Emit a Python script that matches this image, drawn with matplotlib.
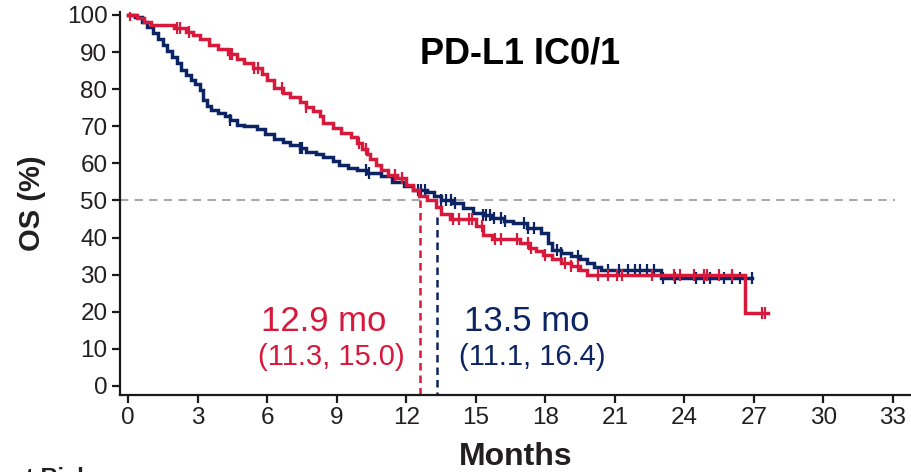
import numpy as np
import matplotlib
matplotlib.use("Agg")
import matplotlib.pyplot as plt

plt.rcParams['font.family'] = ['Liberation Sans', 'DejaVu Sans']

# ---- data ----
red_t = [0, 0.4, 0.7, 1.0, 2.0, 2.5, 2.8, 3.1, 3.5, 3.9, 4.3, 4.7, 5.0, 5.4, 5.8, 6.0, 6.3, 6.7,
         7.0, 7.4, 7.7, 8.0, 8.3, 8.4, 8.85, 9.2, 9.6, 9.9, 10.1, 10.3, 10.45, 10.7, 10.9, 11.2,
         11.6, 12.0, 12.3, 12.55, 12.9, 13.3, 13.5, 13.9, 15.0, 15.3, 15.7, 16.9, 17.3, 17.6,
         17.9, 18.3, 18.7, 19.1, 19.5, 19.8, 26.6, 27.6]
red_s = [100, 99.2, 98.2, 97.3, 96.5, 95.5, 94.6, 93.6, 92.0, 90.8, 89.5, 88.2, 87.0, 85.7, 84.0,
         82.5, 80.3, 79.0, 77.9, 76.5, 75.2, 74.0, 72.8, 70.8, 69.5, 68.3, 67.1, 65.5, 64.0, 62.5,
         61.2, 59.6, 58.2, 57.0, 56.0, 54.2, 52.8, 51.3, 50.0, 48.2, 46.3, 45.0, 43.0, 40.8, 39.6,
         38.5, 37.2, 36.3, 35.3, 34.2, 33.2, 32.4, 31.2, 29.9, 19.7, 19.7]
red_censor = [0.1, 2.1, 2.25, 2.65, 4.4, 4.5, 5.45, 5.6, 6.65, 7.7, 9.95, 10.25, 11.5, 11.8,
              14.0, 14.3, 14.7, 14.85, 15.25, 15.85, 16.1, 16.8, 17.25, 17.4, 18.0, 18.85,
              19.1, 19.4, 20.26, 20.69, 21.1, 21.3, 22.6, 23.56, 23.8, 24.4, 24.85, 24.97,
              25.5, 26.05, 27.35, 27.5]

blue_t = [0, 0.3, 0.6, 0.8, 1.1, 1.3, 1.5, 1.7, 1.9, 2.1, 2.3, 2.5, 2.7, 2.9, 3.1, 3.25, 3.4,
          3.6, 3.9, 4.2, 4.4, 4.7, 5.0, 5.55, 5.9, 6.3, 6.7, 7.0, 7.4, 7.7, 8.1, 8.4, 8.85, 9.1,
          9.5, 9.9, 10.3, 10.9, 11.4, 11.9, 12.3, 12.9, 13.2, 13.5, 14.0, 14.45, 14.9, 15.3,
          15.7, 16.2, 16.6, 17.2, 17.8, 18.1, 18.3, 18.7, 19.1, 19.5, 19.8, 20.1, 20.4, 23.0, 26.9]
blue_s = [100, 99.5, 98.2, 96.8, 95.1, 93.5, 92.0, 90.3, 88.7, 87.0, 85.2, 83.8, 82.5, 81.5,
          79.8, 77.1, 75.5, 74.4, 73.5, 72.8, 71.8, 70.4, 70.0, 69.2, 68.0, 66.5, 65.8, 65.0,
          64.2, 63.1, 62.5, 61.7, 60.7, 59.5, 58.8, 58.2, 57.4, 56.6, 55.0, 54.0, 52.8, 52.2,
          51.2, 50.1, 49.4, 48.0, 46.6, 46.0, 45.4, 44.5, 43.9, 42.6, 41.2, 38.5, 36.7, 35.8,
          35.0, 34.2, 33.2, 32.1, 31.3, 29.2, 29.2]
blue_censor = [4.4, 7.4, 7.5, 10.25, 10.4, 12.5, 12.65, 12.8, 13.5, 13.7, 13.95, 14.1, 15.3,
               15.45, 15.6, 15.8, 16.1, 16.25, 17.1, 17.25, 17.5, 18.5, 18.7, 19.4, 20.7,
               21.2, 21.55, 21.85, 22.1, 22.4, 22.7, 23.1, 23.6, 24.5, 24.85, 25.1, 25.7,
               26.05, 26.4, 26.9]

red_median_line = [12.6, 50.0]     # x position, top of dashed drop line
blue_median_line = [13.35, 45.5]
red_label = ["12.9 mo", "(11.3, 15.0)"]
blue_label = ["13.5 mo", "(11.1, 16.4)"]
x_ticks = list(range(0, 34, 3))
y_ticks = list(range(0, 101, 10))

RED = '#D7193C'
NAVY = '#0C2463'
GREY = '#A9A9A9'


def surv_at(t_arr, s_arr, times):
    t_arr = np.asarray(t_arr)
    s_arr = np.asarray(s_arr)
    idx = np.searchsorted(t_arr, np.asarray(times), side='right') - 1
    return s_arr[idx]


W, H = 912, 472
fig = plt.figure(figsize=(W / 100, H / 100), dpi=100)
ax = fig.add_axes([120 / W, 77 / H, 1 - 120 / W, (395 - 12) / H])

ax.set_xlim(-0.345, 33.82)
ax.set_ylim(-2.43, 100.8)

# 50% reference line
ax.axhline(50, xmin=0, xmax=(33.1 + 0.345) / (33.82 + 0.345), color=GREY, lw=1.5,
           dashes=(4, 3), zorder=1)

# median drop lines
ax.plot([red_median_line[0]] * 2, [red_median_line[1], -2.43], color=RED, lw=1.8,
        dashes=(3, 2), zorder=2, clip_on=False)
ax.plot([blue_median_line[0]] * 2, [blue_median_line[1], -2.43], color=NAVY, lw=1.8,
        dashes=(3, 2), zorder=2, clip_on=False)

# KM curves
ax.plot(blue_t, blue_s, drawstyle='steps-post', color=NAVY, lw=2.5, zorder=3,
        solid_joinstyle='miter')
ax.plot(blue_censor, surv_at(blue_t, blue_s, blue_censor), ls='none', marker='|',
        ms=8, mew=1.6, color=NAVY, zorder=3)
ax.plot(red_t, red_s, drawstyle='steps-post', color=RED, lw=2.5, zorder=4,
        solid_joinstyle='miter')
ax.plot(red_censor, surv_at(red_t, red_s, red_censor), ls='none', marker='|',
        ms=8, mew=1.6, color=RED, zorder=4)

# axes styling
for side in ['top', 'right']:
    ax.spines[side].set_visible(False)
for side in ['left', 'bottom']:
    ax.spines[side].set_linewidth(1.6)
    ax.spines[side].set_color('#1a1a1a')
ax.set_xticks(x_ticks)
ax.set_yticks(y_ticks)
ax.tick_params(axis='both', direction='out', length=6, width=1.6, colors='#1a1a1a',
               labelsize=17.5, labelcolor='#231f20', pad=3)

ax.set_xlabel('Months', fontsize=23, fontweight='bold', color='#231f20', labelpad=9)
ax.set_ylabel('OS (%)', fontsize=21, fontweight='bold', color='#231f20', labelpad=15)

# title inside plot
ax.text(16.9, 89.6, 'PD-L1 IC0/1', fontsize=26, fontweight='bold', color='black',
        ha='center', va='center')

# median annotations
ax.text(8.45, 17.3, red_label[0], fontsize=25, color=RED, ha='center', va='center')
ax.text(8.75, 7.8, red_label[1], fontsize=21, color=RED, ha='center', va='center')
ax.text(17.2, 17.3, blue_label[0], fontsize=25, color=NAVY, ha='center', va='center')
ax.text(17.45, 7.8, blue_label[1], fontsize=21, color=NAVY, ha='center', va='center')

# cut-off "No. at Risk" at the bottom edge
fig.text(90 / W, 1 - 467 / H, 'No. at Risk', fontsize=17, fontweight='bold',
         color='#231f20', ha='right', va='top')

fig.savefig('out.png', dpi=100)
